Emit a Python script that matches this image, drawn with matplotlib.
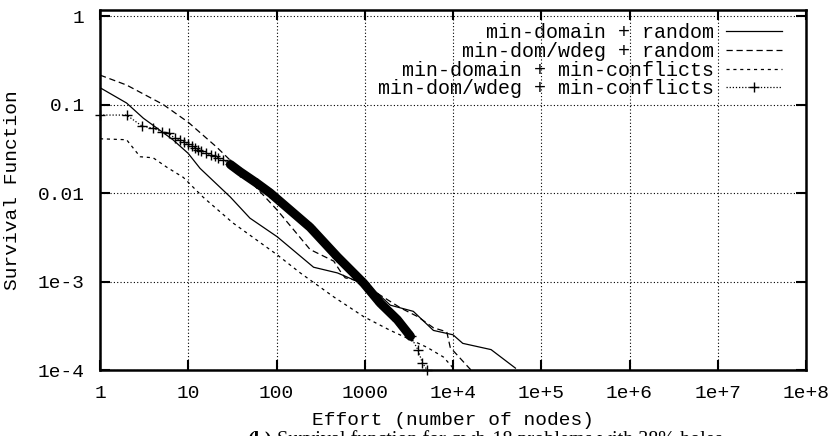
import matplotlib
matplotlib.use("Agg")
import matplotlib.pyplot as plt
from matplotlib.ticker import FixedLocator, NullLocator

# ---------------- data ----------------
labels = ["min-domain + random", "min-dom/wdeg + random",
          "min-domain + min-conflicts", "min-dom/wdeg + min-conflicts"]

x1 = [1, 2, 3.1, 6.7, 10, 13.6, 30, 50, 102, 263, 490, 830, 1380, 1950,
      3550, 6000, 10000, 12900, 27000, 51000]
y1 = [0.155, 0.104, 0.07, 0.04, 0.028, 0.019, 0.009, 0.0052, 0.0032, 0.00145,
      0.00125, 0.001, 0.00074, 0.00054, 0.00046, 0.00028, 0.00025, 0.0002,
      0.00017, 0.000105]

x2 = [1, 2, 5.2, 10, 21, 36, 102, 240, 445, 530, 600, 900, 1500, 2570, 4000,
      6000, 8500, 9300, 15000, 16000]
y2 = [0.215, 0.166, 0.1, 0.063, 0.033, 0.0196, 0.0064, 0.0023, 0.0017, 0.0013,
      0.0011, 0.001, 0.0007, 0.0005, 0.0004, 0.0003, 0.00027, 0.00018,
      0.000107, 0.0001]

x3 = [1, 2, 2.85, 4, 5.7, 8.8, 14.7, 32, 102, 186, 445, 975, 1950, 3000, 5100,
      7800, 10500]
y3 = [0.041, 0.040, 0.0257, 0.025, 0.0196, 0.015, 0.009, 0.0046, 0.002,
      0.00125, 0.00067, 0.0004, 0.00028, 0.00023, 0.00018, 0.00014, 0.0001]

x4 = [1, 2, 3, 4, 5, 6, 7, 8, 9, 10, 11, 12, 13, 14, 16, 18, 20, 22, 25, 30,
      38.6, 60, 85, 240, 490, 970, 1500, 2340, 3300, 4000, 4500, 5100]
y4 = [0.076, 0.076, 0.057, 0.054, 0.049, 0.048, 0.0415, 0.040, 0.038, 0.036,
      0.034, 0.032, 0.031, 0.030, 0.028, 0.027, 0.026, 0.025, 0.0236, 0.021,
      0.0174, 0.0129, 0.01, 0.0041, 0.0019, 0.00096, 0.00057, 0.00037,
      0.00024, 0.00017, 0.00012, 0.0001]

xticks = [1, 10, 100, 1000, 1e4, 1e5, 1e6, 1e7, 1e8]
xticklabels = ["1", "10", "100", "1000", "1e+4", "1e+5", "1e+6", "1e+7", "1e+8"]
yticks = [1e-4, 1e-3, 1e-2, 1e-1, 1]
yticklabels = ["1e-4", "1e-3", "0.01", "0.1", "1"]

xlabel = "Effort (number of nodes)"
ylabel = "Survival Function"
caption_bold = "(b)"
caption_rest = " Survival function for qwh-18 problems with 38% holes"

# ---------------- figure ----------------
W, H = 832, 436
fig = plt.figure(figsize=(W / 100, H / 100), dpi=100)
ax = fig.add_axes([100 / W, 1 - 370 / H, 706 / W, 360 / H])

mono = "Liberation Mono"
fs = 14

ax.set_xscale("log")
ax.set_yscale("log")
ax.set_xlim(1, 1e8)
ax.set_ylim(1e-4, 10 ** 0.068)

black = "black"
ax.plot(x1, y1, color=black, lw=0.9, ls="-", label=labels[0])
ax.plot(x2, y2, color=black, lw=0.9, ls=(0, (5, 3)), label=labels[1])
ax.plot(x3, y3, color=black, lw=0.9, ls=(0, (2.5, 3)), label=labels[2])
# dense region of the fourth series renders as a solid band of markers
band = slice(19, 29)
ax.plot(x4[band], y4[band], color=black, lw=6.5, solid_capstyle="round",
        zorder=3)
ax.plot(x4, y4, color=black, lw=0.9, ls=(0, (1, 1.5)), marker="+", ms=7,
        mew=1.0, label=labels[3], clip_on=False, zorder=4)

# grid
ax.xaxis.set_major_locator(FixedLocator(xticks))
ax.yaxis.set_major_locator(FixedLocator(yticks))
ax.xaxis.set_minor_locator(NullLocator())
ax.yaxis.set_minor_locator(NullLocator())
ax.set_xticklabels(xticklabels, family=mono, fontsize=fs)
ax.set_yticklabels(yticklabels, family=mono, fontsize=fs)
ax.grid(True, which="major", color=black, ls=(0, (1, 2)), lw=0.8)

ax.tick_params(which="major", direction="in", length=7, width=1.5,
               top=True, right=True, pad=11)
for s in ax.spines.values():
    s.set_linewidth(1.8)

ax.set_xlabel(xlabel, family=mono, fontsize=fs, labelpad=7)
ax.set_ylabel(ylabel, family=mono, fontsize=fs, labelpad=12)

leg = ax.legend(loc="upper right", bbox_to_anchor=((782 - 100) / 706,
                                                   (370 - 23) / 360),
                frameon=False, markerfirst=False,
                prop={"family": mono, "size": 14.4}, handlelength=2.8,
                handletextpad=0.6, labelspacing=-0.01, borderaxespad=0,
                borderpad=0)

# caption (cut off at bottom of figure, as in reference)
fig.canvas.draw()
r = fig.canvas.get_renderer()
cy = 1 - 430 / H
t1 = fig.text(247 / W, cy, caption_bold, family="Liberation Serif",
              weight="bold", fontsize=14.5, va="top", ha="left")
bb = t1.get_window_extent(renderer=r)
fig.text(bb.x1 / W, cy, caption_rest, family="Liberation Serif",
         fontsize=14.5, va="top", ha="left")

fig.savefig("out.png", dpi=100)
